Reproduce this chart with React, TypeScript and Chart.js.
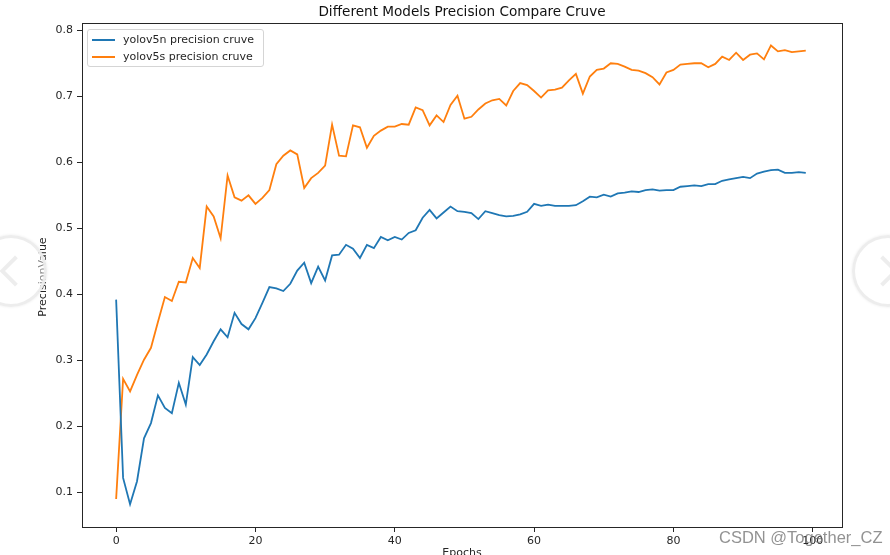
import React, { useEffect, useRef } from "react";
import { Chart, registerables } from "chart.js";

Chart.register(...registerables);

const epochs = [
  0, 1, 2, 3, 4, 5, 6, 7, 8, 9, 10, 11, 12, 13, 14, 15, 16, 17, 18, 19,
  20, 21, 22, 23, 24, 25, 26, 27, 28, 29, 30, 31, 32, 33, 34, 35, 36, 37, 38, 39,
  40, 41, 42, 43, 44, 45, 46, 47, 48, 49, 50, 51, 52, 53, 54, 55, 56, 57, 58, 59,
  60, 61, 62, 63, 64, 65, 66, 67, 68, 69, 70, 71, 72, 73, 74, 75, 76, 77, 78, 79,
  80, 81, 82, 83, 84, 85, 86, 87, 88, 89, 90, 91, 92, 93, 94, 95, 96, 97, 98, 99,
];

const yolov5n = [
  0.392, 0.122, 0.082, 0.117, 0.182, 0.205, 0.247, 0.228, 0.22, 0.266,
  0.233, 0.305, 0.293, 0.309, 0.329, 0.347, 0.335, 0.372, 0.355, 0.347,
  0.364, 0.387, 0.411, 0.409, 0.405, 0.416, 0.436, 0.448, 0.417, 0.442,
  0.421, 0.459, 0.46, 0.475, 0.469, 0.455, 0.475, 0.47, 0.487, 0.482,
  0.487, 0.483, 0.493, 0.497, 0.516, 0.528, 0.515, 0.524, 0.533, 0.526,
  0.525, 0.523, 0.514, 0.526, 0.523, 0.52, 0.518, 0.519, 0.521, 0.525,
  0.537, 0.534, 0.536, 0.534, 0.534, 0.534, 0.535, 0.541, 0.548, 0.547,
  0.551, 0.548, 0.553, 0.554, 0.556, 0.555, 0.558, 0.559, 0.557, 0.558,
  0.558, 0.563, 0.564, 0.565, 0.564, 0.567, 0.567, 0.572, 0.574, 0.576,
  0.578, 0.576, 0.583, 0.586, 0.588, 0.589, 0.584, 0.584, 0.585, 0.584,
];

const yolov5s = [
  0.09, 0.272, 0.253, 0.278, 0.301, 0.319, 0.358, 0.396, 0.39, 0.419,
  0.418, 0.455, 0.44, 0.533, 0.518, 0.485, 0.58, 0.547, 0.542, 0.55,
  0.537, 0.546, 0.558, 0.597, 0.61, 0.618, 0.612, 0.561, 0.576, 0.584,
  0.595, 0.657, 0.61, 0.609, 0.656, 0.653, 0.622, 0.64, 0.648, 0.654,
  0.654, 0.658, 0.657, 0.683, 0.679, 0.656, 0.671, 0.661, 0.687, 0.701,
  0.666, 0.669, 0.68, 0.689, 0.694, 0.696, 0.686, 0.708, 0.72, 0.717,
  0.708, 0.698, 0.709, 0.71, 0.713, 0.724, 0.734, 0.704, 0.73, 0.74,
  0.742, 0.75, 0.749, 0.745, 0.74, 0.739, 0.735, 0.729, 0.718, 0.736,
  0.74, 0.748, 0.749, 0.75, 0.75, 0.744, 0.749, 0.76, 0.755, 0.766,
  0.755, 0.763, 0.765, 0.756, 0.777, 0.768, 0.77, 0.767, 0.768, 0.769,
];

const seriesNames = ["yolov5n precision cruve", "yolov5s precision cruve"];
const seriesColors = ["#1f77b4", "#ff7f0e"];
const xTicks = [0, 20, 40, 60, 80, 100];
const yTicks = [0.1, 0.2, 0.3, 0.4, 0.5, 0.6, 0.7, 0.8];
const titleText = "Different Models Precision Compare Cruve";
const xLabel = "Epochs";
const yLabel = "PrecisionValue";
const watermark = "CSDN @Together_CZ";

const FONT = "'DejaVu Sans', sans-serif";
const AXIS_COLOR = "#262626";
const TICK_SIZE = 11;

const framePlugin = {
  id: "frame",
  afterDraw(chart: any) {
    const { ctx, chartArea } = chart;
    ctx.save();
    ctx.strokeStyle = AXIS_COLOR;
    ctx.lineWidth = 1;
    ctx.strokeRect(
      Math.round(chartArea.left) + 0.5,
      Math.round(chartArea.top) + 0.5,
      Math.round(chartArea.right - chartArea.left),
      Math.round(chartArea.bottom - chartArea.top)
    );
    ctx.restore();
  },
};

export default function App() {
  const canvasRef = useRef<HTMLCanvasElement | null>(null);

  useEffect(() => {
    const canvas = canvasRef.current;
    if (!canvas) return;
    const chart = new Chart(canvas, {
      type: "line",
      data: {
        datasets: [yolov5n, yolov5s].map((vals, k) => ({
          label: seriesNames[k],
          data: vals.map((v, i) => ({ x: epochs[i], y: v })),
          borderColor: seriesColors[k],
          backgroundColor: seriesColors[k],
          borderWidth: 1.8,
          pointRadius: 0,
          tension: 0,
          fill: false,
        })),
      },
      options: {
        animation: false,
        responsive: false,
        devicePixelRatio: 1,
        layout: { padding: { left: 42, right: 48, top: 23, bottom: 0 } },
        plugins: {
          legend: { display: false },
          title: { display: false },
          tooltip: { enabled: false },
        },
        scales: {
          x: {
            type: "linear",
            min: -4.9,
            max: 104.2,
            afterBuildTicks: (scale: any) => {
              scale.ticks = xTicks.map((v) => ({ value: v }));
            },
            afterFit: (scale: any) => {
              scale.height = 28;
            },
            ticks: {
              font: { family: FONT, size: TICK_SIZE },
              color: AXIS_COLOR,
              padding: 3,
              maxRotation: 0,
              autoSkip: false,
            },
            grid: {
              drawOnChartArea: false,
              drawTicks: true,
              tickLength: 5,
              color: AXIS_COLOR,
            },
            border: { display: true, color: AXIS_COLOR, width: 1 },
          },
          y: {
            type: "linear",
            min: 0.0476,
            max: 0.811,
            afterBuildTicks: (scale: any) => {
              scale.ticks = yTicks.map((v) => ({ value: v }));
            },
            afterFit: (scale: any) => {
              scale.width = 40;
            },
            ticks: {
              font: { family: FONT, size: TICK_SIZE },
              color: AXIS_COLOR,
              padding: 4,
              autoSkip: false,
              callback: (v: any) => Number(v).toFixed(1),
            },
            grid: {
              drawOnChartArea: false,
              drawTicks: true,
              tickLength: 5,
              color: AXIS_COLOR,
            },
            border: { display: true, color: AXIS_COLOR, width: 1 },
          },
        },
      },
      plugins: [framePlugin],
    });
    return () => chart.destroy();
  }, []);

  const circleBase: React.CSSProperties = {
    position: "absolute",
    width: 72,
    height: 72,
    borderRadius: "50%",
    border: "3px solid rgba(236,236,236,0.95)",
    background: "rgba(255,255,255,0.45)",
    boxShadow: "0 0 3px rgba(0,0,0,0.08)",
    boxSizing: "border-box",
  };
  const chevronBase: React.CSSProperties = {
    position: "absolute",
    width: 22,
    height: 22,
    borderLeft: "4px solid rgba(236,236,236,0.95)",
    borderBottom: "4px solid rgba(236,236,236,0.95)",
    boxSizing: "border-box",
  };

  return (
    <div
      style={{
        position: "fixed",
        left: 0,
        top: 0,
        width: 890,
        height: 555,
        overflow: "hidden",
        background: "#fff",
        fontFamily: FONT,
      }}
    >
      <canvas ref={canvasRef} width={890} height={555} style={{ position: "absolute", left: 0, top: 0, width: 890, height: 555 }} />
      <div
        style={{
          position: "absolute",
          left: 462,
          top: 3,
          transform: "translateX(-50%)",
          fontSize: 13.6,
          lineHeight: "16px",
          color: "#111",
          whiteSpace: "nowrap",
        }}
      >
        {titleText}
      </div>
      <div
        style={{
          position: "absolute",
          left: 43,
          top: 277,
          transform: "translate(-50%, -50%) rotate(-90deg)",
          fontSize: TICK_SIZE,
          lineHeight: "12px",
          color: AXIS_COLOR,
          whiteSpace: "nowrap",
        }}
      >
        {yLabel}
      </div>
      <div
        style={{
          position: "absolute",
          left: 462,
          top: 547,
          transform: "translateX(-50%)",
          fontSize: TICK_SIZE,
          lineHeight: "12px",
          color: AXIS_COLOR,
          whiteSpace: "nowrap",
        }}
      >
        {xLabel}
      </div>
      <div
        style={{
          position: "absolute",
          left: 87,
          top: 29,
          width: 177,
          height: 38,
          border: "1px solid #d5d5d5",
          borderRadius: 3,
          background: "rgba(255,255,255,0.8)",
          boxSizing: "border-box",
        }}
      >
        {seriesNames.map((name, k) => (
          <div key={name} style={{ position: "absolute", left: 0, top: 1 + k * 17.4, height: 16, width: 176 }}>
            <div
              style={{
                position: "absolute",
                left: 4,
                top: 7.5,
                width: 23,
                height: 2,
                background: seriesColors[k],
              }}
            />
            <div
              style={{
                position: "absolute",
                left: 35,
                top: 0,
                fontSize: TICK_SIZE,
                lineHeight: "17px",
                color: AXIS_COLOR,
                whiteSpace: "nowrap",
              }}
            >
              {name}
            </div>
          </div>
        ))}
      </div>
      <div style={{ ...circleBase, left: 11 - 36, top: 271 - 36 }} />
      <div style={{ ...chevronBase, left: 4, top: 260, transform: "rotate(45deg)" }} />
      <div style={{ ...circleBase, left: 888 - 36, top: 271 - 36 }} />
      <div style={{ ...chevronBase, left: 872, top: 260, transform: "rotate(-135deg)" }} />
      <div
        style={{
          position: "absolute",
          left: 719,
          top: 527,
          fontFamily: "'Liberation Sans', Arial, sans-serif",
          fontSize: 16.5,
          lineHeight: "20px",
          color: "rgba(110,110,110,0.75)",
          whiteSpace: "nowrap",
        }}
      >
        {watermark}
      </div>
    </div>
  );
}
